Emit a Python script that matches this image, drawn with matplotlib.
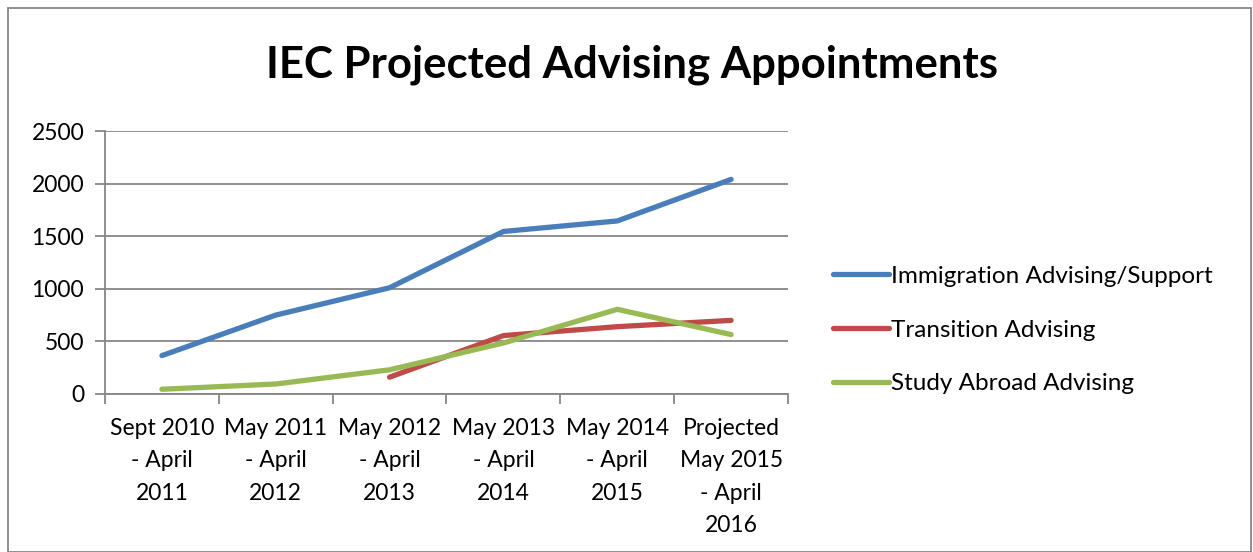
import matplotlib.pyplot as plt
import numpy as np

# Datos del gráfico
categorias = ["Sept 2010\n- April\n2011", "May 2011\n- April\n2012", "May 2012\n- April\n2013",
              "May 2013\n- April\n2014", "May 2014\n- April\n2015", "Projected\nMay 2015\n- April\n2016"]
inmigracion = [365, 750, 1010, 1545, 1645, 2040]
transicion = [np.nan, np.nan, 160, 555, 640, 700]
estudio = [45, 95, 230, 485, 805, 565]

plt.rcParams['font.family'] = ['Lato', 'DejaVu Sans']

fig = plt.figure(figsize=(12.53, 5.52), dpi=100)
ax = fig.add_axes([105/1253, 158/552, 683/1253, 263/552])

x = np.arange(len(categorias))
ax.plot(x, inmigracion, color="#4A7EBB", lw=3.8, label="Immigration Advising/Support", solid_capstyle="round")
ax.plot(x, transicion, color="#BE4B48", lw=3.8, label="Transition Advising", solid_capstyle="round")
ax.plot(x, estudio, color="#98B954", lw=3.8, label="Study Abroad Advising", solid_capstyle="round")

ax.set_xlim(-0.5, len(categorias) - 0.5)
ax.set_ylim(0, 2500)
ax.set_yticks(range(0, 2501, 500))
ax.yaxis.grid(True, color="#868686", lw=1.3)
ax.set_axisbelow(True)

# Marcas de separación entre categorías
ax.set_xticks(np.arange(-0.5, len(categorias), 1.0))
ax.set_xticklabels([])
ax.set_xticks(x, minor=True)
ax.set_xticklabels(categorias, minor=True, fontsize=16.5, linespacing=1.68, va="top")
ax.tick_params(axis="x", which="minor", length=0, pad=17)
ax.tick_params(axis="x", which="major", length=7, color="#868686", width=1.3)
ax.tick_params(axis="y", length=7, color="#868686", width=1.3, labelsize=16.5, pad=8)

for s in ["top", "right"]:
    ax.spines[s].set_visible(False)
for s in ["left", "bottom"]:
    ax.spines[s].set_color("#868686")
    ax.spines[s].set_linewidth(1.3)

fig.text(632/1253, 1 - 65/552, "IEC Projected Advising Appointments", ha="center", va="center",
         fontsize=31.5, fontweight="bold")

ax.legend(loc="center left", bbox_to_anchor=(833/1253, 1 - 330/552), bbox_transform=fig.transFigure,
          frameon=False, fontsize=17.5, handlelength=2.3, handletextpad=0.1, labelspacing=1.35,
          borderaxespad=0, borderpad=0)

# Borde del gráfico
fig.add_artist(plt.Rectangle((8/1253, 0), 1 - 10/1253, 1 - 8/552, transform=fig.transFigure,
                             fill=False, edgecolor="#868686", lw=1.3))

plt.savefig("out.png")
